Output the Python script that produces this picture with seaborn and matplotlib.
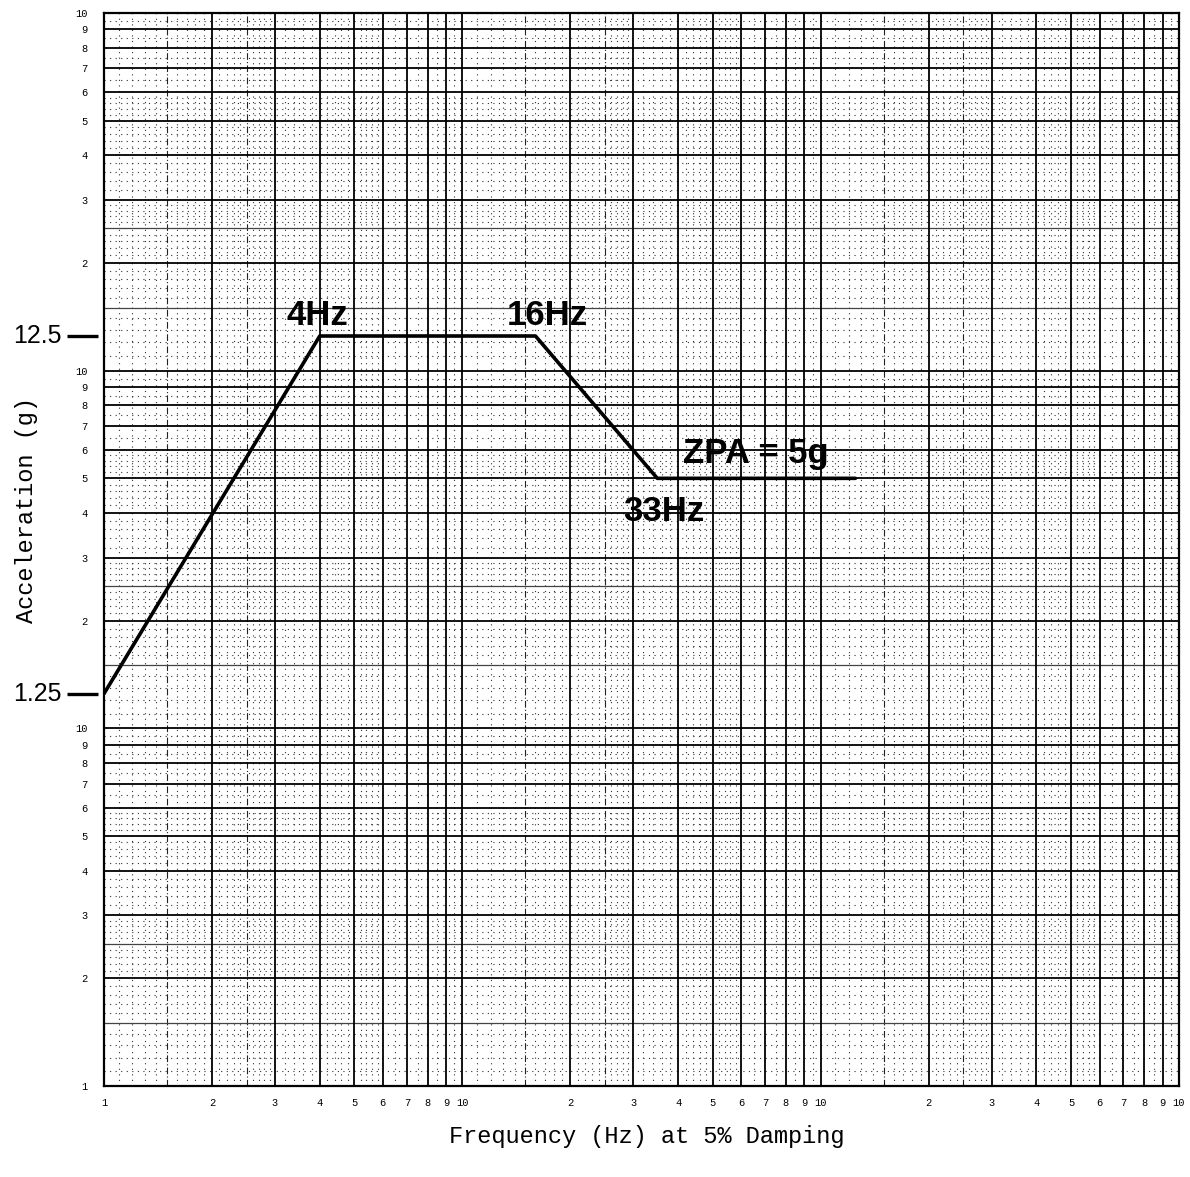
import numpy as np
import pandas as pd
import matplotlib
matplotlib.use("Agg")
import matplotlib.pyplot as plt
import matplotlib.transforms as mtransforms
import seaborn as sns

# ---- data ----
freq_hz = [1, 4, 16, 35, 125]
accel_g = [1.25, 12.5, 12.5, 5, 5]

corner_labels = ["4Hz", "16Hz", "ZPA = 5g", "33Hz"]
corner_label_x = [3.94, 17.3, 65.8, 36.4]
corner_label_y = [14.3, 14.3, 5.85, 4.03]

marked_levels = [12.5, 1.25]
marked_level_labels = ["12.5", "1.25"]

x_decades = [1, 10, 100]
y_decades = [0.1, 1, 10]
mantissas = [1, 2, 3, 4, 5, 6, 7, 8, 9]
mantissa_labels = ["1", "2", "3", "4", "5", "6", "7", "8", "9"]

xlabel = "Frequency (Hz) at 5% Damping"
ylabel = "Acceleration (g)"

# ---- figure ----
sns.set_style("white")
plt.rcParams["font.family"] = ["Liberation Sans", "DejaVu Sans"]
plt.rcParams["text.color"] = "black"
plt.rcParams["xtick.color"] = "black"
plt.rcParams["ytick.color"] = "black"
plt.rcParams["axes.labelcolor"] = "black"

fig = plt.figure(figsize=(11.90, 11.77), dpi=100)
ax = fig.add_axes([104 / 1190, 1 - 1086 / 1177, (1179 - 104) / 1190, (1086 - 13) / 1177])
ax.set_xscale("log")
ax.set_yscale("log")
ax.set_xlim(1, 1000)
ax.set_ylim(0.1, 100)

# graph-paper grid
def paper_lines(decades):
    major, half, minor = [], [], []
    for d in decades:
        for m in range(1, 10):
            if m > 1:
                major.append(m * d)
        major.append(d)
        half += [1.5 * d, 2.5 * d]
        fine = list(np.arange(1.1, 2.0, 0.1)) + list(np.arange(2.1, 3.0, 0.1)) \
            + list(np.arange(3.2, 6.0, 0.2)) + list(np.arange(6.5, 10.0, 1.0))
        for f in fine:
            if abs(f - round(f)) > 1e-6 and abs(f - 1.5) > 1e-6 and abs(f - 2.5) > 1e-6:
                minor.append(f * d)
    return major, half, minor

xmaj, xhalf, xmin_ = paper_lines(x_decades)
ymaj, yhalf, ymin_ = paper_lines(y_decades)

for v in xmin_:
    ax.axvline(v, color="#333333", lw=0.8, ls=(0, (1, 4)), zorder=1)
for v in ymin_:
    ax.axhline(v, color="#333333", lw=0.8, ls=(0, (1, 4)), zorder=1)
for v in xhalf:
    ax.axvline(v, color="#222222", lw=0.8, ls=(0, (6, 2, 1, 2)), zorder=1.5)
for v in yhalf:
    ax.axhline(v, color="#444444", lw=0.9, zorder=1.5)
for v in xmaj:
    ax.axvline(v, color="black", lw=1.3, zorder=2)
for v in ymaj:
    ax.axhline(v, color="black", lw=1.3, zorder=2)

# response spectrum
df = pd.DataFrame({"freq": freq_hz, "accel": accel_g})
sns.lineplot(data=df, x="freq", y="accel", ax=ax, color="black", lw=2.6,
             sort=False, estimator=None, zorder=5)

for txt, x, y in zip(corner_labels, corner_label_x, corner_label_y):
    ax.text(x, y, txt, ha="center", va="center", fontsize=25, fontweight="bold",
            color="black", family=["Liberation Sans", "DejaVu Sans"], zorder=6)

# ticks
xt, xtl = [], []
for i, d in enumerate(x_decades):
    for m, lab in zip(mantissas, mantissa_labels):
        if m == 1 and i > 0:
            continue
        xt.append(m * d)
        xtl.append(lab)
    xt.append(10 * d)
    xtl.append("10")
yt, ytl = [], []
for i, d in enumerate(y_decades):
    for m, lab in zip(mantissas, mantissa_labels):
        if m == 1 and i > 0:
            continue
        yt.append(m * d)
        ytl.append(lab)
    yt.append(10 * d)
    ytl.append("10")

ax.set_xticks(xt)
ax.set_xticklabels(xtl, family=["Liberation Mono", "DejaVu Sans Mono"], fontsize=7.5, color="black")
ax.set_yticks(yt)
ax.set_yticklabels(ytl, family=["Liberation Mono", "DejaVu Sans Mono"], fontsize=7.5, color="black")
ax.xaxis.set_minor_locator(matplotlib.ticker.NullLocator())
ax.yaxis.set_minor_locator(matplotlib.ticker.NullLocator())
ax.tick_params(axis="x", length=0, pad=9)
ax.tick_params(axis="y", length=0, pad=12)

for s in ax.spines.values():
    s.set_color("black")
    s.set_linewidth(1.6)
    s.set_zorder(7)

# marked levels at the left
trans = mtransforms.blended_transform_factory(ax.transAxes, ax.transData)
for lev, lab in zip(marked_levels, marked_level_labels):
    ax.plot([-0.034, -0.006], [lev, lev], transform=trans, color="black", lw=2.4,
            clip_on=False, solid_capstyle="butt")
    ax.text(-0.039, lev, lab, transform=trans, ha="right", va="center", color="black",
            fontsize=18, family=["Liberation Sans", "DejaVu Sans"])

fig.text(647 / 1190, 1 - 1137 / 1177, xlabel, ha="center", va="center", color="black",
         fontsize=17, family=["Liberation Mono", "DejaVu Sans Mono"])
fig.text(27 / 1190, 1 - 510 / 1177, ylabel, ha="center", va="center", rotation=90,
         color="black", fontsize=17, family=["Liberation Mono", "DejaVu Sans Mono"])

ax.set_xlabel("")
ax.set_ylabel("")
fig.savefig("out.png", dpi=100, facecolor="white")
